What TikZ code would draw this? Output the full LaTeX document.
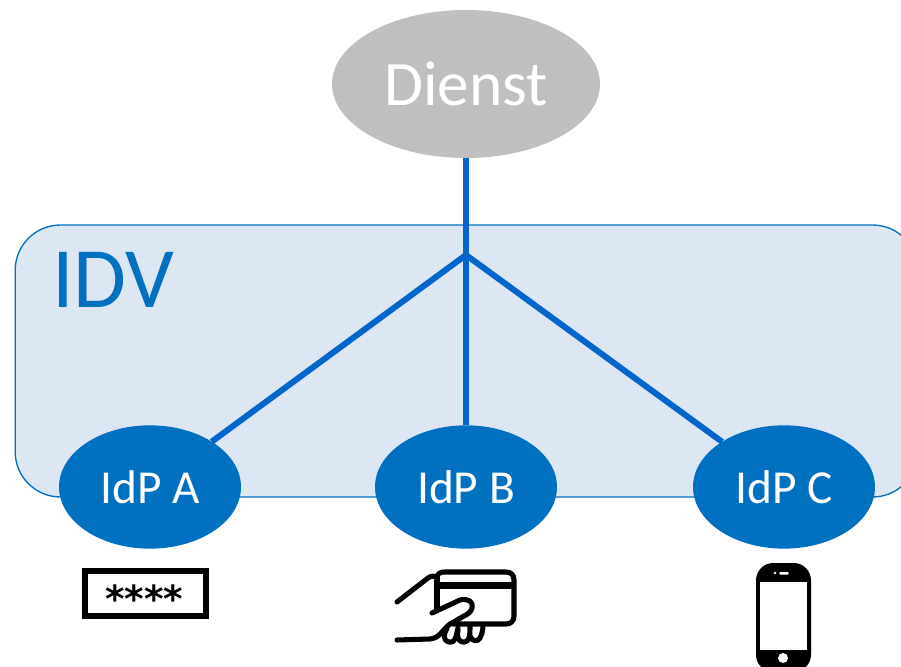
\documentclass[tikz,border=0pt]{standalone}
\usepackage{xcolor}
\usepackage{fontspec}
\setmainfont{Carlito}
\newfontfamily\starfont{DejaVu Sans}
\usetikzlibrary{shapes.geometric,positioning}
\definecolor{idvblue}{HTML}{0070C0}
\definecolor{linkblue}{HTML}{0066CC}
\definecolor{idvfill}{HTML}{DCE7F3}
\definecolor{dienstgray}{HTML}{BFBFBF}
\tikzset{
    idp/.style={ellipse,fill=idvblue,text=white,minimum width=136.5pt,minimum height=92.5pt,inner sep=0pt,outer sep=0pt,font=\fontsize{35.5}{42}\selectfont},
    link/.style={draw=linkblue,line width=4.5pt},
    icon/.style={line width=3.8pt,line cap=round,line join=round}
}

\begin{document}
\begin{tikzpicture}[x=0.75pt,y=-0.75pt,on grid]
    \useasboundingbox (0,0) rectangle (901,667);
    \clip (0,0) rectangle (901,667);

    \node (idv) [draw=idvblue,fill=idvfill,line width=1pt,rounded corners=34pt,minimum width=677pt,minimum height=204pt,inner sep=0pt] at (466.5,361) {};
    \node (idvlabel) [text=idvblue,font=\fontsize{64.5}{75}\selectfont] at (113.5,280) {IDV};

    \node (dienst) [ellipse,fill=dienstgray,text=white,minimum width=201pt,minimum height=111pt,inner sep=0pt,outer sep=0pt,font=\fontsize{47.5}{56}\selectfont] at (466,84) {Dienst};
    \coordinate (hub) at (466,255);
    \node (idpb) [idp] at (466,487) {IdP B};
    \node (idpa) [idp,left=237pt of idpb] {IdP A};
    \node (idpc) [idp,right=238.5pt of idpb] {IdP C};

    \path [link]
            (dienst) edge (hub)
            (hub) edge (idpa)
            (hub) edge (idpb)
            (hub) edge (idpc);

    \node (password) [draw=black,line width=4.5pt,minimum width=90.75pt,minimum height=33.75pt,inner sep=0pt,font=\fontsize{28}{36}\selectfont\starfont\bfseries] at (145.5,593.5) {\raisebox{-14pt}[0pt][0pt]{\hspace*{-2pt}****}};

    \draw [icon] (437,578) .. controls (437,574) and (440,572) .. (444,572) -- (506,572) .. controls (511,572) and (514,575) .. (514,580) -- (514,616) .. controls (514,621) and (511,624) .. (506,624) -- (453,624);
    \fill (437,582) rectangle (514,589);
    \draw [icon] (437,578) -- (437,610);
    \draw [icon] (397,602) -- (428,578) .. controls (431,576) and (434,575) .. (437,578);
    \draw [icon] (432,613) -- (460,600) .. controls (468,598) and (474,602) .. (472,608) .. controls (471,612) and (468,614) .. (464,616) -- (450,624) .. controls (442,630) and (440,638) .. (430,639) -- (397,640);
    \draw [icon] (447,628) .. controls (444,634) and (442,640) .. (449,642) .. controls (456,643) and (456,636) .. (458,628);
    \draw [icon] (458,630) .. controls (456,640) and (461,643) .. (465,642) .. controls (470,641) and (470,634) .. (470,626);
    \draw [icon] (470,636) .. controls (472,642) and (478,642) .. (480,638) .. controls (482,634) and (483,630) .. (483,625);

    \fill [rounded corners=13pt] (756,563) rectangle (811,672);
    \fill [white] (760,582) rectangle (807,650);
    \fill [white,rounded corners=1pt] (779,572) rectangle (789,574.5);
    \fill [white] (775,573) circle (1.3);
    \fill [white] (783,658) circle (5);
\end{tikzpicture}
\end{document}
